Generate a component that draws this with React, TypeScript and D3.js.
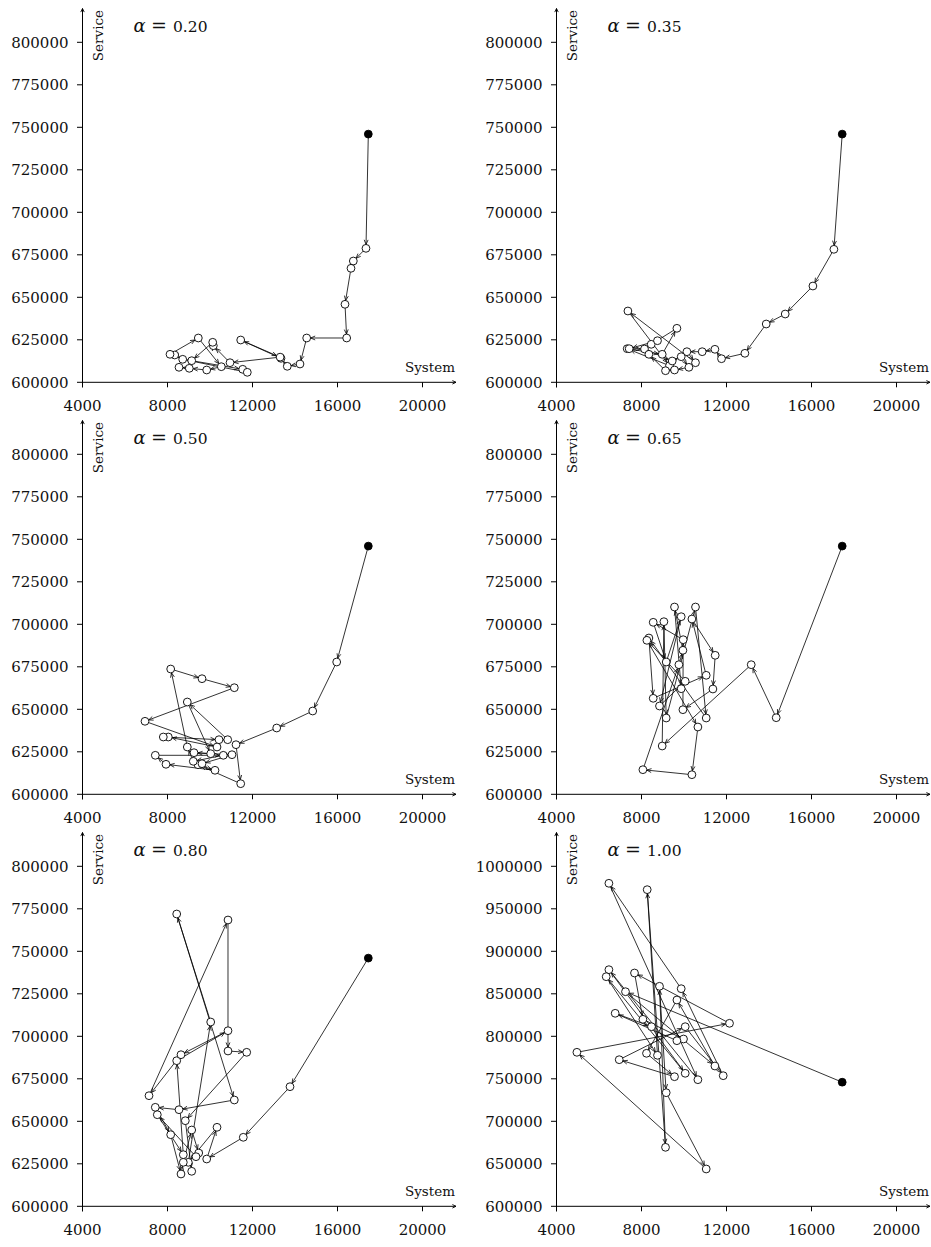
import { useEffect, useRef } from "react";
import * as d3 from "d3";

// axis ticks
const systemTicks = [4000, 8000, 12000, 16000, 20000];
const serviceTicks = [600000, 625000, 650000, 675000, 700000, 725000, 750000, 775000, 800000];
const serviceTicksWide = [600000, 650000, 700000, 750000, 800000, 850000, 900000, 950000, 1000000];
const alphas = ["0.20", "0.35", "0.50", "0.65", "0.80", "1.00"];

// alpha = 0.20 (first point is the start)
const system020 = [17450, 17340, 16745, 16635, 16353, 16432, 14550, 14235, 13637, 13341, 11445, 13300, 10941, 10156, 10127, 9139, 11539, 11755, 8715, 8339, 8118, 9450, 10532, 9845, 9026, 8541];
const service020 = [746000, 678800, 671350, 667060, 645880, 626060, 626060, 610760, 609410, 614120, 624880, 614800, 611530, 621530, 623530, 612710, 607650, 605880, 613530, 616060, 616470, 626060, 609180, 607240, 608230, 608820];

// alpha = 0.35
const system035 = [17445, 17054, 16066, 14763, 13869, 12866, 11765, 11454, 10857, 10137, 10541, 7360, 9318, 7327, 8974, 9666, 8457, 8753, 7420, 8141, 9445, 9868, 10231, 9553, 9130, 8348];
const service035 = [746000, 678230, 656640, 640170, 634290, 617060, 613880, 619410, 618000, 618000, 611530, 641940, 609760, 619760, 616470, 631760, 622350, 624470, 619760, 619590, 612530, 615060, 608820, 607240, 606820, 616470];

// alpha = 0.50
const system050 = [17450, 15962, 14833, 13139, 11224, 11445, 9435, 10235, 7929, 7426, 10626, 9214, 8932, 8150, 9624, 11144, 6941, 10330, 8038, 7803, 10424, 10833, 8932, 10033, 9247, 11035, 9624];
const service050 = [746000, 677820, 649000, 639000, 629180, 606240, 617410, 614120, 617650, 622940, 622940, 619410, 627820, 673700, 668000, 662700, 642940, 627820, 633700, 633700, 632120, 632120, 654290, 623880, 624470, 623290, 618000];

// alpha = 0.65
const system065 = [17445, 14339, 13163, 8974, 9054, 9162, 10541, 11045, 8348, 8551, 11045, 10372, 11468, 11360, 9949, 9962, 8551, 9162, 9868, 8847, 10057, 8254, 10654, 10372, 8066, 9760, 9949, 9553, 9868];
const service065 = [746000, 645060, 676230, 628410, 701530, 644880, 710170, 644880, 691940, 656470, 670000, 703110, 681760, 661940, 649760, 690940, 701170, 677820, 704470, 651940, 666470, 690580, 639590, 611530, 614470, 676230, 684700, 710170, 662110];

// alpha = 0.80
const system080 = [17450, 13765, 11567, 9845, 10330, 8979, 10033, 8433, 11144, 8541, 7426, 8150, 8635, 8744, 9139, 9468, 9341, 7520, 8744, 8433, 10847, 8635, 7130, 10847, 10847, 11727, 8838, 9139];
const service080 = [746000, 670350, 640590, 627820, 646470, 625880, 708410, 771940, 662530, 656820, 658230, 642120, 619000, 625880, 644880, 631350, 629180, 653880, 630350, 685640, 703290, 689170, 665060, 768410, 691350, 690580, 650350, 620590];

// alpha = 1.00
const system100 = [17445, 7247, 11454, 9666, 8235, 9553, 6951, 10057, 11845, 9868, 6466, 10654, 6466, 10057, 6339, 8753, 8268, 9130, 8847, 9162, 11045, 4960, 12142, 7671, 8066, 9977, 9666, 6762, 8471];
const service100 = [746000, 852470, 765060, 842710, 780000, 752470, 772470, 811300, 753650, 856000, 980000, 748940, 878360, 756470, 870120, 777650, 972500, 669400, 858830, 733650, 643900, 781180, 815300, 874470, 820000, 796830, 794830, 827060, 811300];

const FONT = "DejaVu Serif";

function App() {
  const svgRef = useRef<SVGSVGElement | null>(null);

  useEffect(() => {
    const svg: any = d3.select(svgRef.current);
    svg.selectAll("*").remove();

    const panels = [
      { alpha: alphas[0], xs: system020, ys: service020, ticks: serviceTicks },
      { alpha: alphas[1], xs: system035, ys: service035, ticks: serviceTicks },
      { alpha: alphas[2], xs: system050, ys: service050, ticks: serviceTicks },
      { alpha: alphas[3], xs: system065, ys: service065, ticks: serviceTicks },
      { alpha: alphas[4], xs: system080, ys: service080, ticks: serviceTicks },
      { alpha: alphas[5], xs: system100, ys: service100, ticks: serviceTicksWide },
    ];

    const colOff = [0, 474];
    const rowOff = [0, 412, 824];
    const left = 82.5;
    const bottom = 382.3;
    const ink = "#111";

    // open "V" arrow tip at (x, y) pointing along (ux, uy)
    const tip = (g: any, x: number, y: number, ux: number, uy: number, len: number, ang: number, w: number) => {
      const pts: [number, number][] = [];
      for (const s of [1, -1]) {
        const c = Math.cos(ang);
        const sn = Math.sin(ang) * s;
        const bx = -(ux * c - uy * sn);
        const by = -(ux * sn + uy * c);
        pts.push([x + bx * len, y + by * len]);
      }
      g.append("path")
        .attr("d", `M${pts[0][0]},${pts[0][1]} L${x},${y} L${pts[1][0]},${pts[1][1]}`)
        .attr("fill", "none")
        .attr("stroke", "#000")
        .attr("stroke-width", w);
    };

    panels.forEach((p, i) => {
      const g = svg
        .append("g")
        .style("font-family", FONT)
        .attr("fill", ink)
        .attr("transform", `translate(${colOff[i % 2]}, ${rowOff[Math.floor(i / 2)]})`);

      const x = d3.scaleLinear().domain([4000, 20000]).range([left, 422.5]);
      const y = d3
        .scaleLinear()
        .domain([p.ticks[0], p.ticks[p.ticks.length - 1]])
        .range([bottom, 42.3]);

      // axes
      g.append("line")
        .attr("x1", left).attr("x2", 456)
        .attr("y1", bottom).attr("y2", bottom)
        .attr("stroke", "#000").attr("stroke-width", 1);
      tip(g, 456, bottom, 1, 0, 4, 0.45, 0.9);
      g.append("line")
        .attr("x1", left).attr("x2", left)
        .attr("y1", bottom + 5).attr("y2", 8.5)
        .attr("stroke", "#000").attr("stroke-width", 1);
      tip(g, left, 8.5, 0, -1, 4, 0.45, 0.9);

      systemTicks.forEach((t) => {
        g.append("line")
          .attr("x1", x(t)).attr("x2", x(t))
          .attr("y1", bottom).attr("y2", bottom + 5)
          .attr("stroke", "#000").attr("stroke-width", 1);
        g.append("text")
          .attr("x", x(t)).attr("y", bottom + 29)
          .attr("text-anchor", "middle")
          .style("font-size", "15px")
          .text(t);
      });

      p.ticks.forEach((t) => {
        g.append("line")
          .attr("x1", left - 5.5).attr("x2", left)
          .attr("y1", y(t)).attr("y2", y(t))
          .attr("stroke", "#000").attr("stroke-width", 1);
        g.append("text")
          .attr("x", left - 14).attr("y", y(t) + 5.5)
          .attr("text-anchor", "end")
          .style("font-size", "15px")
          .text(t);
      });

      g.append("text")
        .attr("transform", `translate(${left + 20.5}, 10) rotate(-90)`)
        .attr("text-anchor", "end")
        .style("font-size", "13.5px")
        .text("Service");
      g.append("text")
        .attr("x", 455).attr("y", bottom - 10.5)
        .attr("text-anchor", "end")
        .style("font-size", "13.5px")
        .text("System");

      // alpha label
      g.append("text")
        .attr("x", left + 51).attr("y", 32)
        .style("font-size", "18px").style("font-style", "italic")
        .text("α");
      g.append("text")
        .attr("x", left + 76.5).attr("y", 32)
        .attr("text-anchor", "middle")
        .style("font-size", "19px")
        .text("=");
      g.append("text")
        .attr("x", left + 90.5).attr("y", 32)
        .style("font-size", "15.5px")
        .text(p.alpha);

      // path with arrows
      const pts = p.xs.map((v, k) => [x(v), y(p.ys[k])] as [number, number]);
      const r = 3.9;
      for (let k = 1; k < pts.length; k++) {
        const [x0, y0] = pts[k - 1];
        const [x1, y1] = pts[k];
        const dx = x1 - x0;
        const dy = y1 - y0;
        const len = Math.hypot(dx, dy) || 1;
        const ux = dx / len;
        const uy = dy / len;
        const ex = x1 - ux * r;
        const ey = y1 - uy * r;
        g.append("line")
          .attr("x1", x0).attr("y1", y0)
          .attr("x2", ex).attr("y2", ey)
          .attr("stroke", "#000").attr("stroke-width", 0.8);
        tip(g, ex, ey, ux, uy, 5, 0.4, 0.8);
      }

      g.selectAll("circle.pt")
        .data(pts)
        .enter()
        .append("circle")
        .attr("class", "pt")
        .attr("cx", (d: any) => d[0])
        .attr("cy", (d: any) => d[1])
        .attr("r", r)
        .attr("fill", (_: any, k: number) => (k === 0 ? "#000" : "#fff"))
        .attr("stroke", "#000")
        .attr("stroke-width", 0.9);
    });
  }, []);

  return (
    <svg
      ref={svgRef}
      width={931}
      height={1247}
      style={{ position: "absolute", left: 0, top: 0, background: "#fff" }}
    ></svg>
  );
}

export default App;
